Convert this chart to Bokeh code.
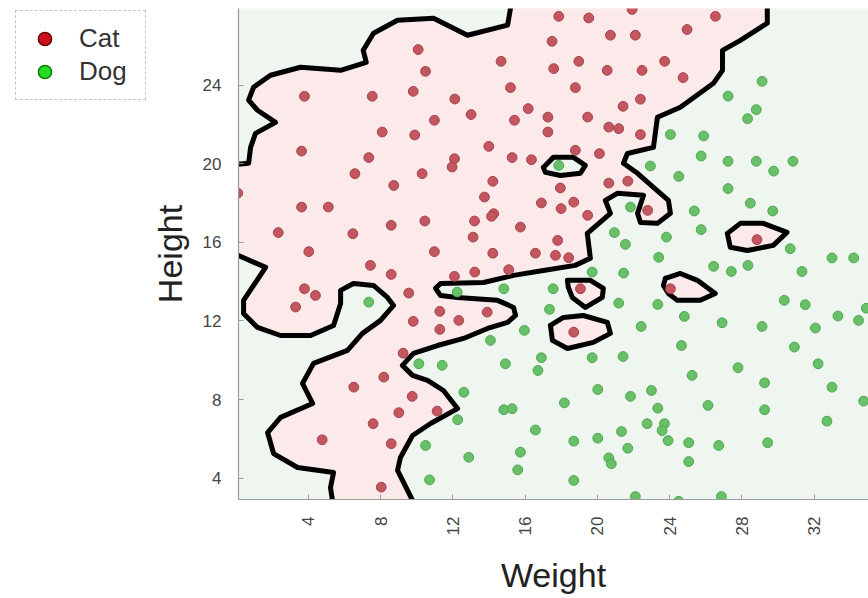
import numpy as np
from bokeh.plotting import figure
from bokeh.models import Range1d, FixedTicker, Legend, LegendItem
from bokeh.layouts import row
from bokeh.embed import file_html
from bokeh.resources import INLINE

# ---------------- data ----------------
cat_weight = [10.08, 10.49, 9.81, 3.79, 7.54, 12.11, 14.67, 15.19, 16.17, 13.01,
              10.98, 15.41, 17.26, 17.26, 8.09, 9.89, 13.99, 3.63, 7.35, 12.09,
              11.96, 15.28, 16.35, 6.58, 10.30, 8.73, 14.21, 13.75, 16.90, 3.63,
              5.11, 14.26, 14.14, 10.45, 13.20, 8.59, 15.74, 2.34, 6.47, 13.12,
              0.10, 4.03, 10.98, 14.21, 16.57, 17.86, 19.52, 21.92, 26.53, 20.72,
              22.10, 24.96, 17.49, 18.97, 17.58, 20.54, 22.47, 23.72, 24.74, 18.78,
              22.38, 21.42, 19.46, 20.63, 21.18, 22.38, 18.78, 20.11, 20.63, 21.68,
              17.95, 17.99, 18.69, 19.46, 22.78, 17.80, 17.68, 18.41, 28.83, 7.44,
              8.59, 12.09, 13.21, 15.09, 9.56, 3.79, 4.40, 3.30, 11.28, 12.33,
              13.90, 9.81, 11.28, 9.25, 8.18, 6.52, 9.75, 9.01, 11.13, 7.59,
              4.77, 8.59, 8.04, 19.06, 24.04, 18.69]
cat_height = [25.82, 24.71, 23.69, 23.44, 23.44, 23.30, 25.22, 23.88, 22.81, 22.51,
              22.22, 22.22, 22.38, 21.62, 21.62, 21.47, 20.89, 20.65, 20.32, 20.26,
              19.84, 20.32, 20.21, 19.50, 19.50, 18.90, 19.11, 18.31, 18.01, 17.80,
              17.80, 17.46, 17.33, 17.09, 17.09, 16.87, 16.78, 16.50, 16.44, 16.27,
              18.51, 15.53, 15.53, 15.45, 15.45, 27.51, 27.43, 27.86, 27.51, 26.55,
              26.55, 26.84, 26.24, 25.22, 24.85, 24.76, 24.76, 25.22, 24.39, 23.88,
              23.29, 22.93, 22.38, 21.87, 21.79, 21.49, 20.69, 20.52, 19.02, 19.12,
              18.77, 17.72, 18.05, 17.38, 17.63, 16.10, 15.34, 15.22, 16.14, 14.83,
              14.37, 14.27, 14.49, 14.61, 13.42, 13.64, 13.30, 12.71, 12.49, 12.03,
              12.45, 11.98, 11.57, 10.36, 9.14, 8.63, 8.16, 7.33, 7.41, 6.77,
              5.95, 5.75, 3.54, 13.64, 13.64, 11.43]

dog_weight = [29.11, 27.23, 28.79, 28.31, 24.04, 25.88, 25.74, 27.23, 28.79, 30.82,
              29.75, 22.93, 24.50, 17.86, 27.23, 28.46, 29.70, 25.36, 21.83, 25.74,
              23.82, 20.94, 21.55, 30.67, 23.39, 32.98, 34.18, 26.43, 27.41, 28.33,
              31.32, 19.71, 21.45, 17.55, 21.18, 23.34, 17.35, 24.81, 26.90, 22.42,
              30.34, 31.50, 33.31, 34.45, 34.88, 29.11, 32.06, 24.65, 30.90, 16.90,
              19.71, 21.42, 16.71, 27.78, 25.24, 32.21, 29.25, 20.02, 22.99, 21.83,
              32.98, 18.17, 23.34, 26.12, 29.25, 34.73, 22.75, 23.71, 23.58, 16.57,
              21.33, 32.70, 18.69, 20.02, 23.91, 21.68, 25.05, 26.71, 29.42, 20.63,
              20.77, 25.05, 18.69, 22.10, 24.50, 26.86, 7.35, 12.24, 14.82, 15.96,
              14.08, 10.12, 11.41, 14.91, 12.61, 14.82, 15.28, 12.27, 10.49, 12.88,
              15.74, 15.59, 10.71]
dog_height = [24.20, 23.45, 22.76, 22.30, 21.49, 21.42, 20.40, 20.13, 20.13, 20.13,
              19.63, 19.89, 19.36, 19.92, 18.74, 18.00, 17.60, 17.60, 17.80, 16.65,
              16.27, 16.50, 15.90, 15.68, 15.24, 15.21, 15.21, 14.78, 14.52, 14.83,
              14.52, 14.49, 14.44, 13.64, 12.91, 12.84, 12.59, 12.23, 11.91, 11.72,
              13.05, 12.83, 12.25, 12.03, 12.65, 11.72, 11.64, 10.75, 10.67, 10.13,
              10.13, 10.19, 9.48, 9.62, 9.23, 9.82, 8.85, 8.51, 8.46, 8.16,
              8.63, 7.83, 7.56, 7.70, 7.48, 7.92, 6.77, 6.77, 6.42, 6.45,
              6.37, 6.90, 5.88, 6.03, 5.91, 5.52, 5.80, 5.66, 5.80, 5.03,
              4.73, 4.84, 3.88, 3.06, 2.82, 3.06, 12.96, 13.47, 13.64, 11.52,
              11.01, 9.82, 9.74, 9.82, 8.37, 7.48, 7.53, 6.97, 5.66, 5.06,
              5.32, 4.42, 3.91]

# decision boundary (Cat / Dog)
edge_top_left_w = [-0.5, 0.70, 0.81, 1.08, 2.19, 1.19, 0.70, 0.97, 1.91, 3.57,
                   5.79, 7.21, 7.04, 7.61, 8.94, 10.93, 12.81, 15.03, 15.19, 15.2]
edge_top_left_h = [19.92, 20.03, 20.84, 21.55, 22.11, 22.73, 23.24, 23.90, 24.51, 24.92,
                   24.76, 25.17, 25.78, 26.65, 27.31, 27.41, 26.55, 27.06, 27.92, 28.5]

edge_right_w = [29.40, 29.40, 27.91, 26.92, 26.92, 26.42, 24.59, 23.32, 23.10, 21.66,
                21.44, 22.22, 23.10, 23.93, 24.04, 23.32, 22.38, 22.22, 22.55, 21.10,
                20.44, 20.72, 19.44, 19.61, 18.77, 17.01, 15.36, 13.70, 11.32, 11.04,
                11.32, 12.26, 14.47, 15.36, 15.47, 15.03, 13.92, 12.59, 11.15, 9.82,
                9.21, 9.77, 10.60, 11.48, 12.26, 10.77, 9.77, 9.10, 8.94, 9.77, 9.95]
edge_right_h = [28.5, 27.16, 26.29, 25.78, 24.76, 24.10, 22.88, 22.37, 20.84, 20.53,
                20.03, 19.52, 18.80, 18.14, 17.48, 16.97, 17.02, 17.48, 18.40, 18.50,
                18.14, 17.48, 16.46, 15.19, 14.83, 14.57, 14.32, 13.96, 13.91, 13.66,
                13.30, 13.20, 13.05, 12.69, 12.28, 11.93, 11.62, 11.11, 10.75, 10.35,
                9.74, 9.23, 8.97, 8.46, 7.54, 6.78, 6.17, 5.05, 4.39, 2.86, 2.3]

edge_left_w = [-0.5, 1.64, 0.42, 0.42, 1.19, 2.47, 4.13, 5.40, 5.79, 5.79,
               6.50, 7.61, 8.38, 8.72, 8.00, 7.00, 6.17, 4.29, 3.68, 4.24,
               2.47, 1.75, 2.08, 3.41, 5.40, 5.23, 5.34, 5.35]
edge_left_h = [15.59, 14.73, 13.05, 12.38, 11.67, 11.26, 11.26, 11.77, 12.89, 13.56,
               13.91, 13.81, 13.20, 12.79, 12.03, 11.37, 10.50, 9.84, 8.82, 7.80,
               7.09, 6.32, 5.25, 4.54, 4.28, 3.52, 2.86, 2.3]

# small islands
dog_island_w = [17.01, 17.56, 18.67, 19.33, 19.06, 17.95, 17.12]
dog_island_h = [19.82, 20.33, 20.33, 19.92, 19.52, 19.41, 19.57]

cat_islands_w = [
    [27.19, 27.91, 29.18, 30.49, 29.73, 28.30, 27.35],
    [23.76, 24.59, 25.53, 26.52, 25.69, 24.42, 23.93, 23.65],
    [18.34, 19.61, 20.33, 20.27, 19.34, 18.61, 18.39],
    [17.40, 18.12, 19.22, 20.55, 20.72, 19.77, 18.34, 17.51],
]
cat_islands_h = [
    [16.46, 16.97, 16.97, 16.51, 15.85, 15.59, 15.75],
    [14.17, 14.42, 14.07, 13.40, 13.05, 13.05, 13.40, 13.81],
    [14.07, 14.07, 13.66, 13.20, 12.69, 13.20, 13.71],
    [11.77, 12.18, 12.28, 11.93, 11.37, 10.91, 10.60, 11.01],
]

x_ticks = [4, 8, 12, 16, 20, 24, 28, 32]
y_ticks = [4, 8, 12, 16, 20, 24]
labels = ["Cat", "Dog"]

# ---------------- styling ----------------
PINK = "#fce9ea"
GREEN_BG = "#eff5ef"
CAT_FILL, CAT_LINE = "#c4565f", "#a5434d"
DOG_FILL, DOG_LINE = "#68c068", "#4ea74e"
FONT = "Liberation Sans"
LEFT_W = 147   # width of the legend panel figure

p = figure(width=868 - LEFT_W, height=598,
           x_range=Range1d(0.14, 35.0), y_range=Range1d(2.91, 27.91),
           output_backend="svg", toolbar_location=None,
           min_border_left=238 - LEFT_W, min_border_right=0,
           min_border_top=8, min_border_bottom=99)
p.background_fill_color = GREEN_BG
p.border_fill_color = "white"
p.outline_line_color = None
p.grid.visible = False

# cat region polygon built from the boundary pieces
pink_w = edge_top_left_w + edge_right_w + edge_left_w[::-1]
pink_h = edge_top_left_h + edge_right_h + edge_left_h[::-1]
p.patch(pink_w, pink_h, fill_color=PINK, line_color=None)
p.patch(dog_island_w, dog_island_h, fill_color=GREEN_BG, line_color=None)
p.patches(cat_islands_w, cat_islands_h, fill_color=PINK, line_color=None)

line_xs = [edge_top_left_w, edge_right_w, edge_left_w, dog_island_w + dog_island_w[:1]]
line_ys = [edge_top_left_h, edge_right_h, edge_left_h, dog_island_h + dog_island_h[:1]]
for w, h in zip(cat_islands_w, cat_islands_h):
    line_xs.append(w + w[:1])
    line_ys.append(h + h[:1])
p.multi_line(line_xs, line_ys, line_color="black", line_width=5,
             line_join="round", line_cap="round")

p.scatter(cat_weight, cat_height, size=9.8, fill_color=CAT_FILL,
          line_color=CAT_LINE, line_width=1)
p.scatter(dog_weight, dog_height, size=9.8, fill_color=DOG_FILL,
          line_color=DOG_LINE, line_width=1)

for ax in (p.xaxis[0], p.yaxis[0]):
    ax.axis_line_color = "#9a9a9a"
    ax.axis_line_width = 1.2
    ax.major_tick_line_color = "#9a9a9a"
    ax.major_tick_in = 5
    ax.major_tick_out = 0
    ax.minor_tick_line_color = None
    ax.major_label_text_font = FONT
    ax.major_label_text_font_size = "17px"
    ax.major_label_text_color = "#444444"
    ax.axis_label_text_font = FONT
    ax.axis_label_text_font_size = "34px"
    ax.axis_label_text_font_style = "normal"
    ax.axis_label_text_color = "#222222"

p.xaxis.ticker = FixedTicker(ticks=x_ticks)
p.yaxis.ticker = FixedTicker(ticks=y_ticks)
p.xaxis.major_label_orientation = np.pi / 2
p.xaxis.major_label_standoff = 17
p.xaxis.axis_label = "Weight"
p.xaxis.axis_label_standoff = 18
p.yaxis.major_label_standoff = 17
p.yaxis.axis_label = "Height"
p.yaxis.axis_label_standoff = 11

# ---------------- legend panel (separate small figure on the left) ----------------
# its frame is aligned with the main frame (y from 8 to 499 px)
lf = figure(width=LEFT_W, height=598, output_backend="svg", toolbar_location=None,
            x_axis_type=None, y_axis_type=None,
            min_border=0, min_border_left=0, min_border_right=0,
            min_border_top=0, min_border_bottom=0,
            x_range=Range1d(0, 1), y_range=Range1d(0, 1))
lf.outline_line_color = None
lf.background_fill_color = "white"
lf.border_fill_color = "white"
# key markers only (their single point lies outside the visible range)
r_cat = lf.scatter(x=[-5], y=[-5], size=14, fill_color="#cc1020", line_color="#6a0000", line_width=1.5)
r_dog = lf.scatter(x=[-5], y=[-5], size=14, fill_color="#22dd22", line_color="#0c7a0c", line_width=1.5)
legend = Legend(items=[LegendItem(label=labels[0], renderers=[r_cat]),
                       LegendItem(label=labels[1], renderers=[r_dog])],
                location=(15, 399.3), margin=0, padding=11, spacing=0,
                glyph_width=35, glyph_height=33, label_height=33, label_width=55,
                label_standoff=17, label_text_font=FONT, label_text_font_size="26px",
                label_text_color="#333333",
                border_line_color="#8a8a8a", border_line_dash="dotted", border_line_width=1,
                background_fill_color="white", background_fill_alpha=1.0)
lf.add_layout(legend)

layout = row(lf, p)
open("out.html", "w").write(file_html(layout, INLINE))
